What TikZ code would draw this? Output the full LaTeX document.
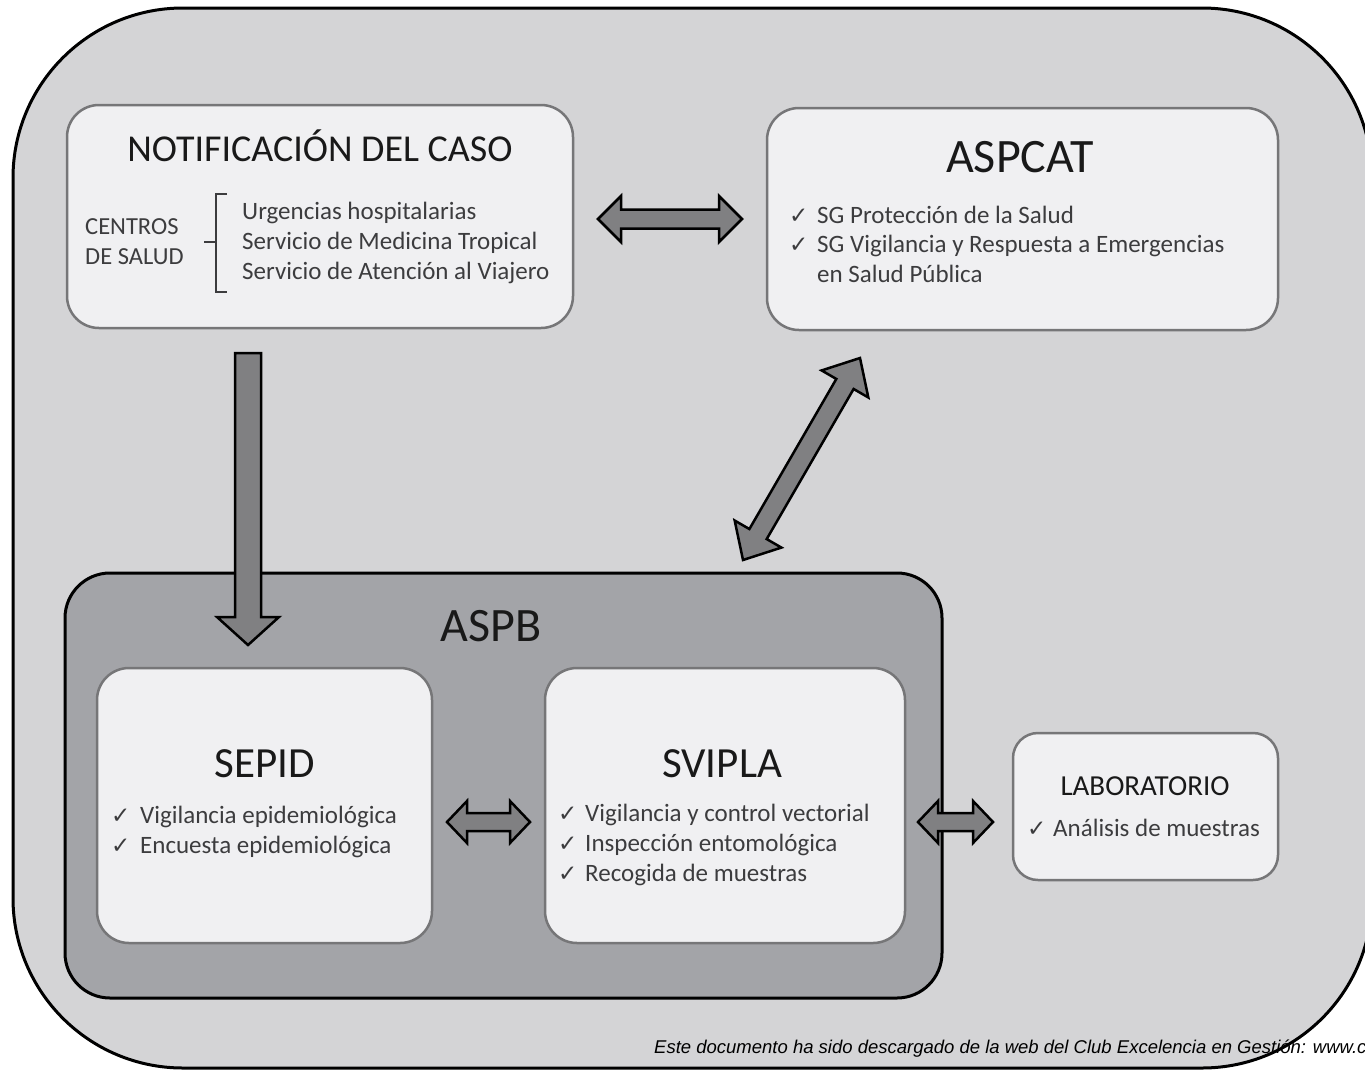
\documentclass[tikz,border=0pt]{standalone}
\usepackage{fontspec}
\setmainfont{Carlito}
\newfontfamily\checkfont{DejaVu Sans}
\newfontfamily\notefont{Liberation Sans}
\usetikzlibrary{calc}

\definecolor{outergray}{RGB}{212,212,214}
\definecolor{aspbgray}{RGB}{163,164,168}
\definecolor{boxfill}{RGB}{240,240,242}
\definecolor{boxline}{RGB}{118,118,120}
\definecolor{arrowgray}{RGB}{128,128,130}
\definecolor{titletext}{RGB}{25,25,25}
\definecolor{itemtext}{RGB}{60,60,62}

\tikzset{
  panel/.style={draw=boxline, line width=2.5pt, fill=boxfill, rounded corners=32pt, inner sep=0pt, outer sep=0pt, anchor=north west},
  title/.style={anchor=base, inner sep=0pt, text=titletext},
  item/.style={anchor=base west, inner sep=0pt, text=itemtext, font=\fontsize{25}{30}\selectfont},
  tick/.style={anchor=base west, inner sep=0pt, text=itemtext, font=\checkfont\fontsize{23}{27}\selectfont},
  blockarrow/.style={draw=black, line width=2.5pt, fill=arrowgray, line join=miter},
}

\newcommand{\dblarrow}[5]{%
  \draw[blockarrow] (#1)
    -- ($($(#1)!#5!(#2)$)!#4!90:(#2)$)
    -- ($($(#1)!#5!(#2)$)!#3!90:(#2)$)
    -- ($($(#2)!#5!(#1)$)!#3!-90:(#1)$)
    -- ($($(#2)!#5!(#1)$)!#4!-90:(#1)$)
    -- (#2)
    -- ($($(#2)!#5!(#1)$)!#4!90:(#1)$)
    -- ($($(#2)!#5!(#1)$)!#3!90:(#1)$)
    -- ($($(#1)!#5!(#2)$)!#3!-90:(#2)$)
    -- ($($(#1)!#5!(#2)$)!#4!-90:(#2)$)
    -- cycle;}

\newcommand{\sglarrow}[5]{%
  \draw[blockarrow] ($(#1)!#3!90:(#2)$)
    -- ($($(#2)!#5!(#1)$)!#3!-90:(#1)$)
    -- ($($(#2)!#5!(#1)$)!#4!-90:(#1)$)
    -- (#2)
    -- ($($(#2)!#5!(#1)$)!#4!90:(#1)$)
    -- ($($(#2)!#5!(#1)$)!#3!90:(#1)$)
    -- ($(#1)!#3!-90:(#2)$)
    -- cycle;}

\begin{document}
\begin{tikzpicture}[x=1pt,y=-1pt]
\path[use as bounding box, fill=white] (0,0) rectangle (1365,1074);
\fill[outergray, rounded corners=170pt] (13,8) rectangle (1372,1068);

\node[panel, minimum width=506pt, minimum height=223pt] (notif) at (67,105) {};
\node[title, font=\fontsize{38}{46}\selectfont] (notiftitle) at (320,161) {NOTIFICACIÓN DEL CASO};
\node[item, font=\fontsize{24.5}{29}\selectfont] (centros) at (85,234) {CENTROS};
\node[item, font=\fontsize{24.5}{29}\selectfont] (salud) at (85,264) {DE SALUD};
\draw[itemtext, line width=1.5pt] (227,194) -- (216,194) -- (216,292) -- (227,292);
\draw[itemtext, line width=1.5pt] (204,242) -- (216,242);
\node[item] (urg) at (242,219) {Urgencias hospitalarias};
\node[item] (trop) at (242,249) {Servicio de Medicina Tropical};
\node[item] (viaj) at (242,279) {Servicio de Atención al Viajero};

\node[panel, minimum width=511pt, minimum height=222pt] (aspcat) at (767,108) {};
\node[title, font=\fontsize{48}{58}\selectfont] (aspcattitle) at (1020,172) {ASPCAT};
\node[tick] (c1) at (789,223) {✓};
\node[item] (prot) at (817,223) {SG Protección de la Salud};
\node[tick] (c2) at (789,252) {✓};
\node[item] (vigresp) at (817,252) {SG Vigilancia y Respuesta a Emergencias};
\node[item] (salpub) at (817,282) {en Salud Pública};

\node[panel, draw=black, line width=3pt, fill=aspbgray, rounded corners=45pt, minimum width=877pt, minimum height=425pt] (aspb) at (65,573) {};
\node[title, font=\fontsize{48}{58}\selectfont] (aspbtitle) at (491,641) {ASPB};

\node[panel, minimum width=335pt, minimum height=275pt] (sepid) at (97,668) {};
\node[title, font=\fontsize{43}{52}\selectfont] (sepidtitle) at (265,777) {SEPID};
\node[tick] (c3) at (111,823) {✓};
\node[item] (vigepi) at (140,823) {Vigilancia epidemiológica};
\node[tick] (c4) at (111,853) {✓};
\node[item] (encepi) at (140,853) {Encuesta epidemiológica};

\node[panel, minimum width=360pt, minimum height=275pt] (svipla) at (545,668) {};
\node[title, font=\fontsize{43}{52}\selectfont] (sviplatitle) at (722,777) {SVIPLA};
\node[tick] (c5) at (558,821) {✓};
\node[item] (vigvec) at (585,821) {Vigilancia y control vectorial};
\node[tick] (c6) at (558,851) {✓};
\node[item] (insp) at (585,851) {Inspección entomológica};
\node[tick] (c7) at (558,881) {✓};
\node[item] (recog) at (585,881) {Recogida de muestras};

\node[panel, rounded corners=25pt, minimum width=265pt, minimum height=147pt] (lab) at (1013,733) {};
\node[title, font=\fontsize{29}{35}\selectfont] (labtitle) at (1145,795) {LABORATORIO};
\node[tick] (c8) at (1027,836) {✓};
\node[item] (anal) at (1053,836) {Análisis de muestras};

\coordinate (ha) at (598,219);
\coordinate (hb) at (742,219);
\coordinate (va) at (248,353);
\coordinate (vb) at (248,645);
\coordinate (da) at (860,358);
\coordinate (db) at (743,560);
\coordinate (sa) at (447,822);
\coordinate (sb) at (530,822);
\coordinate (la) at (918,822);
\coordinate (lb) at (993,822);
\dblarrow{ha}{hb}{9.5pt}{23pt}{23pt}
\sglarrow{va}{vb}{13pt}{31pt}{28pt}
\dblarrow{da}{db}{10pt}{27pt}{30pt}
\dblarrow{sa}{sb}{9pt}{21pt}{20pt}
\dblarrow{la}{lb}{9pt}{21pt}{20pt}

\node[anchor=base west, inner sep=0pt, font=\notefont\itshape\fontsize{18.5}{22}\selectfont] (note) at (654,1053) {Este documento ha sido descargado de la web del Club Excelencia en Gestión: www.c};
\draw[line width=3pt, rounded corners=170pt] (13,8) rectangle (1372,1068);
\end{tikzpicture}
\end{document}
